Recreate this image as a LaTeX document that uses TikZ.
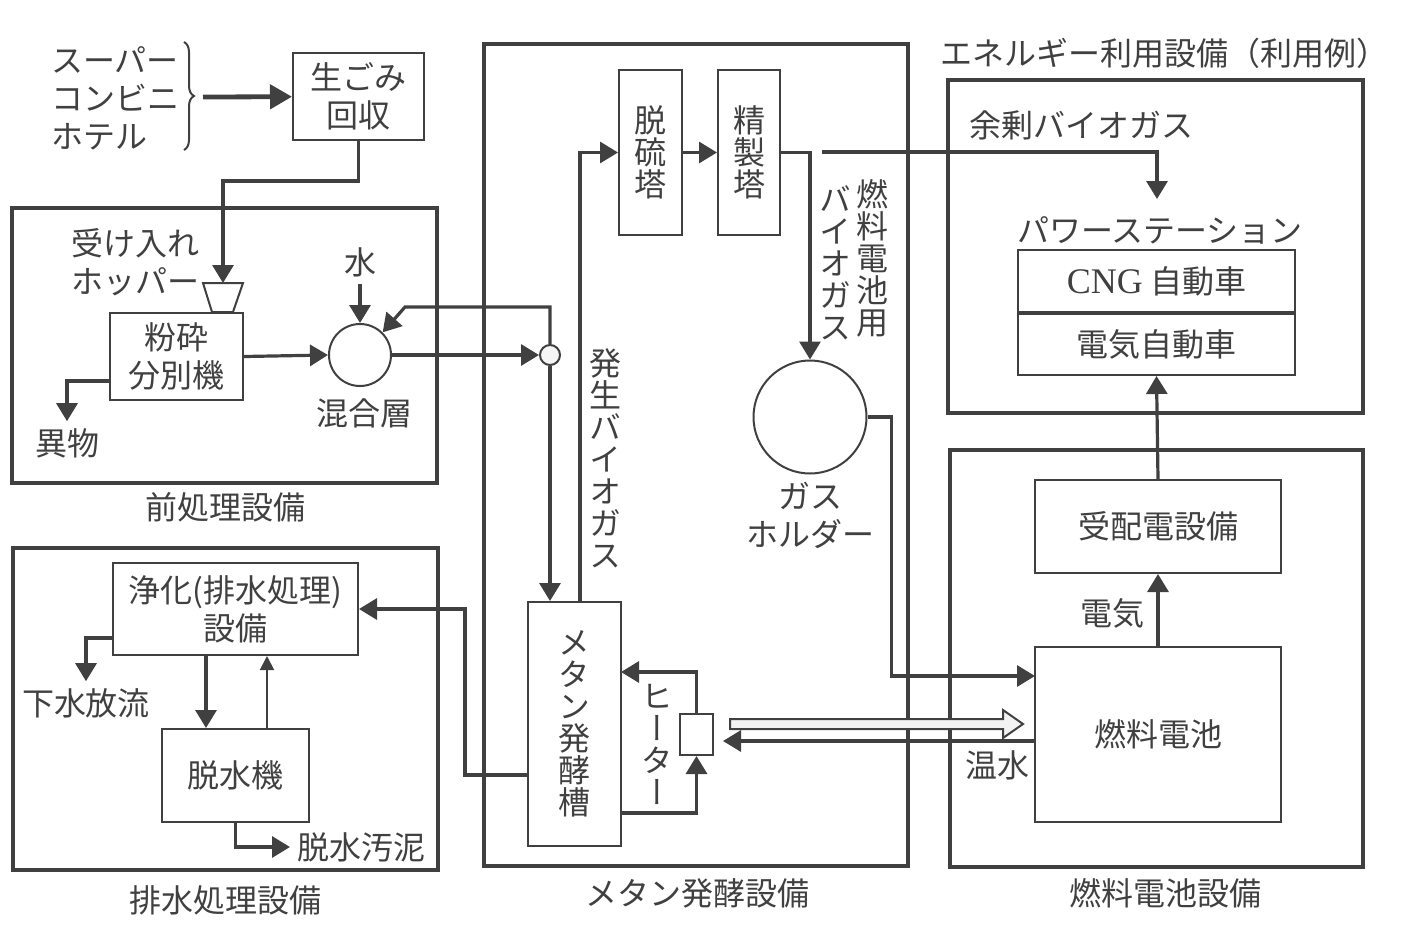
\documentclass[tikz,border=0pt]{standalone}
\usepackage{fontspec}
\setmainfont{Noto Sans CJK JP}
\newfontfamily\jpv[RawFeature=+vert]{Noto Sans CJK JP}
\newfontfamily\latin{Liberation Serif}
\usetikzlibrary{arrows.meta, calc, decorations.pathreplacing, positioning}

\definecolor{ink}{gray}{0.25}
\newcommand\vfont{\jpv\fontsize{16}{16}\selectfont\lineskiplimit=-20pt\relax}

\tikzset{
  every node/.style={text=ink, font=\fontsize{16}{19}\selectfont},
  area/.style={draw=ink, line width=1.6pt},
  box/.style={draw=ink, line width=1pt, align=center, inner sep=0pt},
  vtext/.style={align=center, inner sep=0pt, font=\vfont},
  flow/.style={draw=ink, line width=1.6pt, -{Triangle[length=9pt,width=10.5pt]}},
  thinflow/.style={draw=ink, line width=1pt, -{Triangle[length=7pt,width=7pt]}}
}

\begin{document}
\begin{tikzpicture}[x=0.5pt, y=-0.5pt]
    \useasboundingbox (0,0) rectangle (1403,927);

    % Equipment areas
    \draw[area] (12,208) rectangle (437,483);
    \draw[area] (13,548) rectangle (438,870);
    \draw[area] (484,44) rectangle (908,866);
    \draw[area] (948,80) rectangle (1363,413);
    \draw[area] (950,450) rectangle (1363,867);
    \node (lpre) at (225,507) {前処理設備};
    \node (ldrain) at (225,900) {排水処理設備};
    \node (lmeth) at (697,893) {メタン発酵設備};
    \node (lfc) at (1165,893) {燃料電池設備};
    \node (lenergy) at (1164,53) {エネルギー利用設備（利用例）};

    % Collection
    \node[align=left, anchor=west] (src) at (44,98) {スーパー\\コンビニ\\ホテル};
    \draw[ink, line width=1pt, decorate, decoration={brace, amplitude=5pt}] (184,42) -- (184,150);
    \coordinate (bracetip) at (203,97);
    \node[box, minimum width=65.5pt, minimum height=43.5pt] (collect) at (358.5,96.5) {生ごみ\\回収};
    \draw[flow, line width=2.4pt, -{Triangle[length=11pt,width=12pt]}] (bracetip) -- (collect);

    % Pretreatment
    \coordinate (hop) at (223,283);
    \draw[ink, line width=1pt] (203,283) -- (243,283) -- (233,312) -- (212,312) -- cycle;
    \node[align=left, anchor=west] (hoplbl) at (64,262) {受け入れ\\ホッパー};
    \draw[flow] (collect.south) -- ++(0,40) -| (hop);
    \node[box, minimum width=66.5pt, minimum height=43.5pt] (crusher) at (176.5,356.5) {粉砕\\分別機};
    \node[circle, draw=ink, line width=1pt, minimum size=31pt, inner sep=0pt] (mixer) at (360,355) {};
    \node (mixlbl) at (364,413) {混合層};
    \node (water) at (360,262) {水};
    \draw[flow] (water.south) -- (mixer.north);
    \draw[flow] (crusher.east) -- (mixer.west);
    \coordinate (rej) at (110,381);
    \node (foreign) at (67,443) {異物};
    \draw[flow] (rej) -| (foreign.north);

    % Methane fermentation
    \node[circle, draw=ink, line width=1pt, fill=black!4, minimum size=10pt, inner sep=0pt] (junc) at (550,355) {};
    \draw[flow] (mixer.east) -- (junc.west);
    \draw[flow] (junc.north) |- (405,307) -- (mixer.45);
    \node[box, font=\vfont, minimum width=46.5pt, minimum height=122pt] (tank) at (574.5,724) {メ\\タ\\ン\\発\\酵\\槽};
    \draw[flow] (junc.south) -- (junc.south |- tank.north);
    \node[box, font=\vfont, minimum width=31.5pt, minimum height=82.5pt] (desulf) at (650.5,152.5) {脱\\硫\\塔};
    \node[box, font=\vfont, minimum width=31pt, minimum height=82.5pt] (refine) at (749,152.5) {精\\製\\塔};
    \coordinate (bgx) at (580,0);
    \draw[flow] (tank.north -| bgx) |- (desulf.west);
    \draw[flow] (desulf.east) -- (refine.west);
    \node[vtext] (bglbl) at (605,458) {発\\生\\バ\\イ\\オ\\ガ\\ス};
    \node[circle, draw=ink, line width=1pt, minimum size=56.5pt, inner sep=0pt] (holder) at (810,417) {};
    \node[align=center] (holderlbl) at (810,515) {ガス\\ホルダー};
    \draw[flow] (refine.east) -| (holder.north);
    \node[vtext] (fclbl1) at (872,258) {燃\\料\\電\\池\\用};
    \node[vtext] (fclbl2) at (835,263) {バ\\イ\\オ\\ガ\\ス};
    \node[box, minimum width=16.5pt, minimum height=20.5pt] (heater) at (696.5,734.5) {};
    \node[vtext] (heatlbl) at (657,744) {ヒ\\ー\\タ\\ー};
    \coordinate (tkin) at (621,672);
    \coordinate (tkout) at (621,813);
    \draw[flow] (heater.north) |- (tkin);
    \draw[flow] (tkout) -| (heater.south);

    % Energy use
    \node (surlbl) at (1081,125) {余剰バイオガス};
    \node (stalbl) at (1160,230) {パワーステーション};
    \coordinate (sur) at (822,152);
    \coordinate (sta) at (1157,199);
    \draw[flow] (sur) -| (sta);
    \node[box, minimum width=138.5pt, minimum height=31pt] (cng) at (1156.5,281) {{\latin\fontsize{18}{19}\selectfont CNG} 自動車};
    \node[box, minimum width=138.5pt, minimum height=30.5pt, below=0pt of cng] (ev) {電気自動車};

    % Fuel cell
    \node[box, minimum width=123pt, minimum height=46.5pt] (pr) at (1158,526.5) {受配電設備};
    \node[box, minimum width=123pt, minimum height=87.5pt] (fc) at (1158,734.5) {燃料電池};
    \draw[flow] (fc.north) -- (pr.south);
    \draw[flow] (pr.north) -- (ev.south);
    \node (elec) at (1112,613) {電気};
    \coordinate (fcin) at (1035,676);
    \draw[flow] (holder.east) -- ++(24,0) |- (fcin);
    \draw[ink, line width=1pt, fill=black!5] (730,719) -- (1003,719) -- (1003,710) -- (1023,724) -- (1003,738) -- (1003,729) -- (730,729) -- cycle;
    \coordinate (fcret) at (1035,741);
    \draw[flow] (fcret) -- ([xshift=4.5pt]heater.east |- fcret);
    \node (hw) at (997,765) {温水};

    % Drainage
    \node[box, minimum width=122.5pt, minimum height=46pt] (purify) at (235.5,609) {浄化(排水処理)\\設備};
    \node[box, minimum width=73.5pt, minimum height=46.5pt] (dewater) at (235.5,775.5) {脱水機};
    \coordinate (tkdr) at (528,775);
    \draw[flow] (tkdr) -- ++(-63,0) |- (purify.east);
    \coordinate (pdx) at (206,0);
    \coordinate (dux) at (267,0);
    \draw[flow] (purify.south -| pdx) -- (dewater.north -| pdx);
    \draw[thinflow] (dewater.north -| dux) -- (purify.south -| dux);
    \coordinate (pdis) at (113,638);
    \node (sewer) at (86,703) {下水放流};
    \draw[flow] (pdis) -| (sewer.north);
    \node[anchor=west] (sludge) at (290,847) {脱水汚泥};
    \draw[flow] (dewater.south) |- (sludge.west);
\end{tikzpicture}
\end{document}
